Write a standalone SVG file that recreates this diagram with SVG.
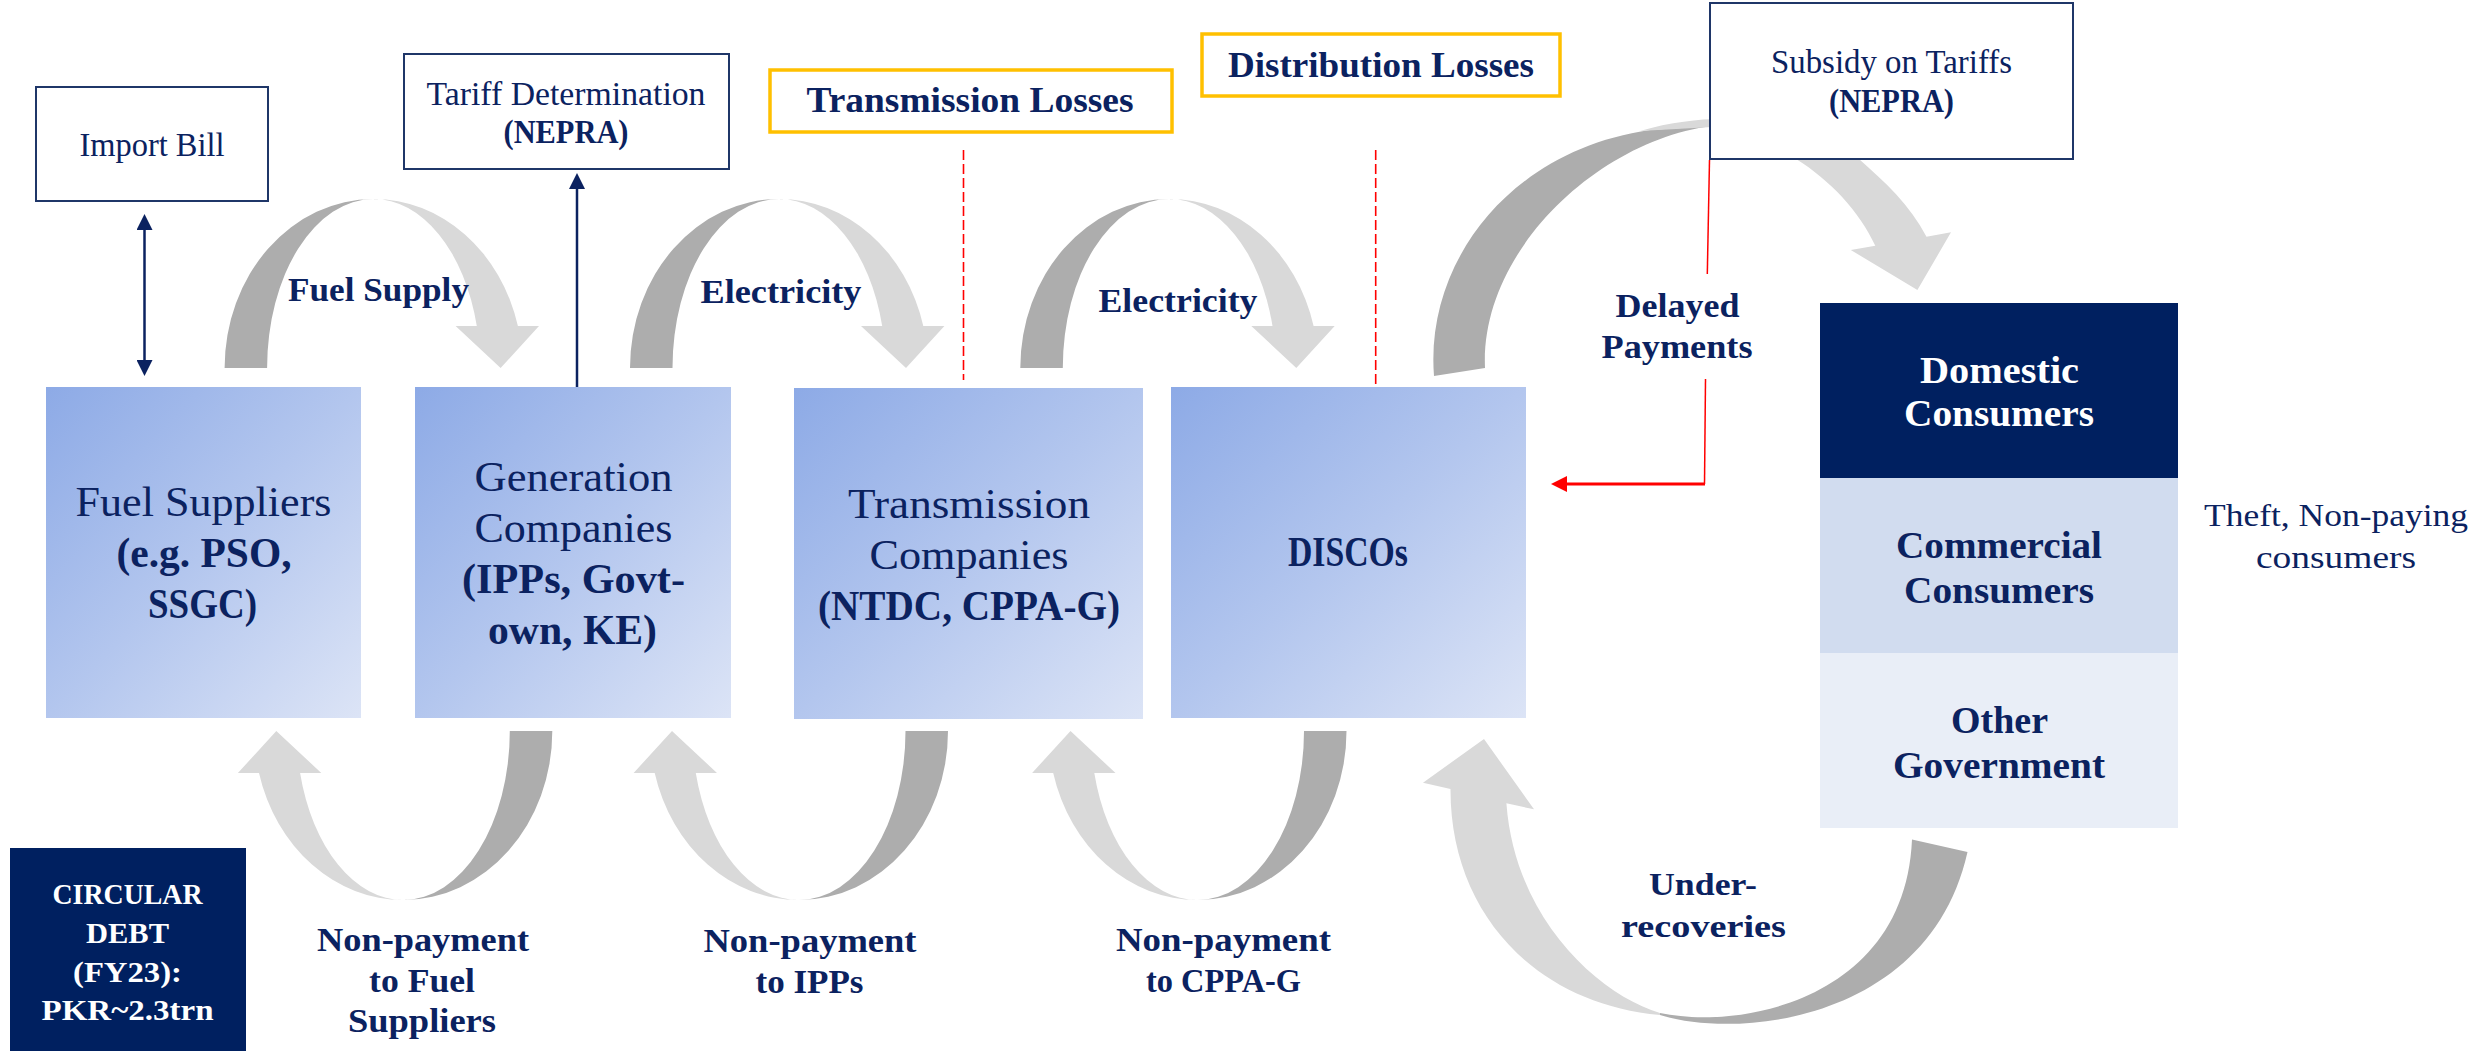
<svg xmlns="http://www.w3.org/2000/svg" xmlns:xlink="http://www.w3.org/1999/xlink" width="2484" height="1051" viewBox="0 0 2484 1051">
  <style>
    .t { font-family: "Liberation Serif", "Times New Roman", serif; fill: #0B2260; text-anchor: middle; }
    .b { font-weight: bold; }
    .w { fill: #FFFFFF; }
    .s33 { font-size: 33px; }
    .s35 { font-size: 35px; }
    .s42 { font-size: 42px; }
    .s34 { font-size: 34px; }
    .s37 { font-size: 37px; }
    .s32 { font-size: 32px; }
    .s30 { font-size: 30px; }
    .frame { fill: #FFFFFF; stroke: #1F3668; stroke-width: 2; }
    .loss { fill: #FFFFFF; stroke: #FFC000; stroke-width: 3.5; }
    .entity { fill: url(#boxFill); }
    .dk { fill: #ADADAD; }
    .lt { fill: #D9D9D9; }
    .navy { stroke: #0B2260; stroke-width: 2.5; fill: none; }
    .dash { stroke: #FF0000; stroke-width: 1.6; stroke-dasharray: 10 4; fill: none; }
    .red { stroke: #FF0000; fill: none; }
  </style>
  <defs>
    <linearGradient id="boxFill" x1="0" y1="0" x2="1" y2="1">
      <stop offset="0" stop-color="#8DAAE6"/>
      <stop offset="0.5" stop-color="#B3C6EE"/>
      <stop offset="1" stop-color="#DCE4F6"/>
    </linearGradient>
    <marker id="navyHead" markerUnits="userSpaceOnUse" markerWidth="16" markerHeight="16" refX="0" refY="7.5" orient="auto-start-reverse" viewBox="0 0 15 15">
      <path d="M0,0 L15,7.5 L0,15 Z" fill="#0B2260"/>
    </marker>
    <marker id="redHead" markerUnits="userSpaceOnUse" markerWidth="16" markerHeight="17" refX="0" refY="8" orient="auto" viewBox="0 0 16 16">
      <path d="M0,0 L16,8 L0,16 Z" fill="#FF0000"/>
    </marker>
    <!-- ribbon arch: darker rising leg, lighter falling leg with arrowhead; origin at the base centre -->
    <g id="arch">
      <path class="dk" d="M-149,0 A149,169 0 0 1 0,-169 A106.5,169 0 0 0 -106.5,0 Z"/>
      <path class="lt" d="M0,-169 A149,169 0 0 1 144.3,-42 L165.4,-42 L127,0 L82,-42 L103.2,-42 A106.5,169 0 0 0 0,-169 Z"/>
    </g>
  </defs>

  <rect width="2484" height="1051" fill="#FFFFFF"/>

  <g id="connectors">
    <!-- forward flows over the top -->
    <use xlink:href="#arch" href="#arch" transform="translate(373.6,368)"/>
    <use xlink:href="#arch" href="#arch" transform="translate(779,368)"/>
    <use xlink:href="#arch" href="#arch" transform="translate(1169.3,368)"/>
    <!-- payment flows underneath -->
    <use xlink:href="#arch" href="#arch" transform="translate(403.3,731) rotate(180)"/>
    <use xlink:href="#arch" href="#arch" transform="translate(799,731) rotate(180)"/>
    <use xlink:href="#arch" href="#arch" transform="translate(1197.5,731) rotate(180)"/>

    <!-- DISCOs to consumers via subsidy -->
    <path class="dk" d="M1434,376 C1425,262 1510,150 1650,130 L1712,126 C1600,140 1480,250 1485,368 Z"/>
    <path class="lt" d="M1640,131 C1670,122 1700,119 1720,119 C1780,120 1830,135 1859,159 C1885,182 1910,205 1926.5,236.7 L1951,232.3 L1917.4,290 L1850.8,250 L1875.3,245.7 C1860,212 1830,180 1796,159 C1770,142 1740,130 1712,127 Z"/>

    <!-- consumers back to DISCOs -->
    <path class="lt" d="M1450.5,789 L1423,782.7 L1484,739 L1534,809.3 L1506.4,803.3 C1515,920 1600,995 1660,1013 L1660,1015 C1532,1003 1450,910 1450.5,789 Z"/>
    <path class="dk" d="M1660,1015 C1740,1040 1930,1020 1967.5,852 L1912,839.5 C1905,1000 1740,1030 1660,1013 Z"/>

    <!-- import bill link -->
    <line class="navy" x1="144.5" y1="230" x2="144.5" y2="360" marker-start="url(#navyHead)" marker-end="url(#navyHead)"/>
    <!-- generation to tariff determination -->
    <line class="navy" x1="577" y1="387" x2="577" y2="189" marker-end="url(#navyHead)"/>

    <!-- loss markers -->
    <line class="dash" x1="963.5" y1="150" x2="963.5" y2="380"/>
    <line class="dash" x1="1375.7" y1="150" x2="1375.7" y2="387"/>

    <!-- delayed subsidy payments -->
    <line class="red" stroke-width="1.5" x1="1709.5" y1="160" x2="1707.3" y2="274"/>
    <line class="red" stroke-width="1.5" x1="1705.5" y1="379" x2="1704.5" y2="484"/>
    <line class="red" stroke-width="3" x1="1705" y1="484" x2="1567" y2="484" marker-end="url(#redHead)"/>

    <!-- flow labels -->
    <text class="t b s33" x="378.5" y="300.5" textLength="181" lengthAdjust="spacingAndGlyphs">Fuel Supply</text>
    <text class="t b s33" x="781" y="303" textLength="161" lengthAdjust="spacingAndGlyphs">Electricity</text>
    <text class="t b s33" x="1178" y="312" textLength="159" lengthAdjust="spacingAndGlyphs">Electricity</text>
    <text class="t b s33" x="1677.5" y="317" textLength="124" lengthAdjust="spacingAndGlyphs">Delayed</text>
    <text class="t b s33" x="1677" y="358" textLength="151" lengthAdjust="spacingAndGlyphs">Payments</text>
    <text class="t b s34" x="423" y="951" textLength="212" lengthAdjust="spacingAndGlyphs">Non-payment</text>
    <text class="t b s34" x="422" y="992" textLength="106" lengthAdjust="spacingAndGlyphs">to Fuel</text>
    <text class="t b s34" x="422" y="1032" textLength="148" lengthAdjust="spacingAndGlyphs">Suppliers</text>
    <text class="t b s34" x="810" y="952" textLength="213" lengthAdjust="spacingAndGlyphs">Non-payment</text>
    <text class="t b s34" x="809.5" y="993" textLength="108" lengthAdjust="spacingAndGlyphs">to IPPs</text>
    <text class="t b s34" x="1223.5" y="951" textLength="215" lengthAdjust="spacingAndGlyphs">Non-payment</text>
    <text class="t b s34" x="1223.5" y="992" textLength="155" lengthAdjust="spacingAndGlyphs">to CPPA-G</text>
    <text class="t b s32" x="1703" y="895" textLength="108" lengthAdjust="spacingAndGlyphs">Under-</text>
    <text class="t b s32" x="1703.5" y="937" textLength="165" lengthAdjust="spacingAndGlyphs">recoveries</text>
  </g>

  <g id="import-bill">
    <rect class="frame" x="36" y="87" width="232" height="114"/>
    <text class="t s33" x="152" y="156" textLength="145" lengthAdjust="spacingAndGlyphs">Import Bill</text>
  </g>

  <g id="tariff-determination">
    <rect class="frame" x="404" y="54" width="325" height="115"/>
    <text class="t s33" x="566" y="105" textLength="279" lengthAdjust="spacingAndGlyphs">Tariff Determination</text>
    <text class="t b s33" x="566" y="143" textLength="125" lengthAdjust="spacingAndGlyphs">(NEPRA)</text>
  </g>

  <g id="transmission-losses">
    <rect class="loss" x="770" y="70" width="402" height="62"/>
    <text class="t b s35" x="970" y="112" textLength="327" lengthAdjust="spacingAndGlyphs">Transmission Losses</text>
  </g>

  <g id="distribution-losses">
    <rect class="loss" x="1202" y="34" width="358" height="62"/>
    <text class="t b s35" x="1381" y="77" textLength="306" lengthAdjust="spacingAndGlyphs">Distribution Losses</text>
  </g>

  <g id="subsidy-on-tariffs">
    <rect class="frame" x="1710" y="3" width="363" height="156" stroke-width="1.8"/>
    <text class="t s33" x="1891.5" y="73" textLength="241" lengthAdjust="spacingAndGlyphs">Subsidy on Tariffs</text>
    <text class="t b s33" x="1891.5" y="112" textLength="125" lengthAdjust="spacingAndGlyphs">(NEPRA)</text>
  </g>

  <g id="fuel-suppliers">
    <rect class="entity" x="46" y="387" width="315" height="331"/>
    <text class="t s42" x="203.5" y="516" textLength="256" lengthAdjust="spacingAndGlyphs">Fuel Suppliers</text>
    <text class="t b s42" x="204" y="567" textLength="175" lengthAdjust="spacingAndGlyphs">(e.g. PSO,</text>
    <text class="t b s42" x="202.5" y="618" textLength="109" lengthAdjust="spacingAndGlyphs">SSGC)</text>
  </g>

  <g id="generation-companies">
    <rect class="entity" x="415" y="387" width="316" height="331"/>
    <text class="t s42" x="573.5" y="491" textLength="198" lengthAdjust="spacingAndGlyphs">Generation</text>
    <text class="t s42" x="573.5" y="542" textLength="198" lengthAdjust="spacingAndGlyphs">Companies</text>
    <text class="t b s42" x="573.5" y="593" textLength="223" lengthAdjust="spacingAndGlyphs">(IPPs, Govt-</text>
    <text class="t b s42" x="572.5" y="644" textLength="169" lengthAdjust="spacingAndGlyphs">own, KE)</text>
  </g>

  <g id="transmission-companies">
    <rect class="entity" x="794" y="388" width="349" height="331"/>
    <text class="t s42" x="969" y="518" textLength="242" lengthAdjust="spacingAndGlyphs">Transmission</text>
    <text class="t s42" x="969" y="569" textLength="199" lengthAdjust="spacingAndGlyphs">Companies</text>
    <text class="t b s42" x="969" y="620" textLength="302" lengthAdjust="spacingAndGlyphs">(NTDC, CPPA-G)</text>
  </g>

  <g id="discos">
    <rect class="entity" x="1171" y="387" width="355" height="331"/>
    <text class="t b s42" x="1348" y="566" textLength="120" lengthAdjust="spacingAndGlyphs">DISCOs</text>
  </g>

  <g id="consumers">
    <g id="domestic-consumers">
      <rect x="1820" y="303" width="358" height="175" fill="#002060"/>
      <text class="t b s37 w" x="1999.5" y="383" textLength="159" lengthAdjust="spacingAndGlyphs">Domestic</text>
      <text class="t b s37 w" x="1999" y="426" textLength="190" lengthAdjust="spacingAndGlyphs">Consumers</text>
    </g>
    <g id="commercial-consumers">
      <rect x="1820" y="478" width="358" height="175" fill="#D1DCEF"/>
      <text class="t b s37" x="1999" y="557.5" textLength="206" lengthAdjust="spacingAndGlyphs">Commercial</text>
      <text class="t b s37" x="1999" y="602.5" textLength="190" lengthAdjust="spacingAndGlyphs">Consumers</text>
    </g>
    <g id="other-government">
      <rect x="1820" y="653" width="358" height="175" fill="#E9EEF7"/>
      <text class="t b s37" x="1999.5" y="733" textLength="97" lengthAdjust="spacingAndGlyphs">Other</text>
      <text class="t b s37" x="1999" y="777.5" textLength="212" lengthAdjust="spacingAndGlyphs">Government</text>
    </g>
  </g>

  <g id="theft-note">
    <text class="t s32" x="2336" y="526" textLength="264" lengthAdjust="spacingAndGlyphs">Theft, Non-paying</text>
    <text class="t s32" x="2336" y="567.5" textLength="160" lengthAdjust="spacingAndGlyphs">consumers</text>
  </g>

  <g id="circular-debt">
    <rect x="10" y="848" width="236" height="203" fill="#002060"/>
    <text class="t b s30 w" x="127.5" y="904" textLength="150" lengthAdjust="spacingAndGlyphs">CIRCULAR</text>
    <text class="t b s30 w" x="127.5" y="943" textLength="83" lengthAdjust="spacingAndGlyphs">DEBT</text>
    <text class="t b s30 w" x="127.5" y="982" textLength="109" lengthAdjust="spacingAndGlyphs">(FY23):</text>
    <text class="t b s30 w" x="127.5" y="1020" textLength="172" lengthAdjust="spacingAndGlyphs">PKR~2.3trn</text>
  </g>
</svg>
